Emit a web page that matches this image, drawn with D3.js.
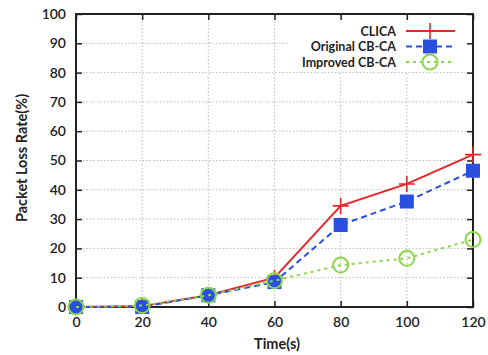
<!DOCTYPE html>
<html><head><meta charset="utf-8">
<script src="https://cdn.jsdelivr.net/npm/d3@7"></script>
<style>body{margin:0;background:#fff;} text{font-family:Lato,sans-serif;}</style>
</head><body><svg id="c" width="488" height="355"></svg>
<script>
const times = [0, 20, 40, 60, 80, 100, 120];
const clica = [0, 0.3, 4, 10, 34.5, 42, 52];
const originalCBCA = [0, 0, 4, 8.5, 28, 36, 46.5];
const improvedCBCA = [0, 0.5, 4, 9, 14.3, 16.6, 23];
const xTicks = [0, 20, 40, 60, 80, 100, 120];
const yTicks = [0, 10, 20, 30, 40, 50, 60, 70, 80, 90, 100];
const seriesNames = ["CLICA", "Original CB-CA", "Improved CB-CA"];

const svg = d3.select("#c");
const L = 76, R = 473, T = 14, B = 307;
const x = d3.scaleLinear().domain([0, 120]).range([L, R]);
const y = d3.scaleLinear().domain([0, 100]).range([B, T]);

// grid
const g = svg.append("g");
g.selectAll(".gx").data(xTicks.slice(1, -1)).join("line")
  .attr("x1", d => x(d)).attr("x2", d => x(d)).attr("y1", T).attr("y2", B)
  .attr("stroke", "#aaa").attr("stroke-width", 0.8).attr("stroke-dasharray", "1.5,2");
g.selectAll(".gy").data(yTicks.slice(1, -1)).join("line")
  .attr("x1", L).attr("x2", R).attr("y1", d => y(d)).attr("y2", d => y(d))
  .attr("stroke", "#aaa").attr("stroke-width", 0.8).attr("stroke-dasharray", "1.5,2");

// key area over grid
svg.append("rect").attr("x", 288).attr("y", 22).attr("width", 180).attr("height", 50).attr("fill", "#fff");

const axB = d3.axisBottom(x).tickValues(xTicks).tickSize(-6).tickPadding(10).tickFormat(d3.format("d"));
const axT = d3.axisTop(x).tickValues(xTicks).tickSize(-6).tickFormat("");
const axL = d3.axisLeft(y).tickValues(yTicks).tickSize(-6).tickPadding(10).tickFormat(d3.format("d"));
const axR = d3.axisRight(y).tickValues(yTicks).tickSize(-6).tickFormat("");
function style(sel) {
  sel.select(".domain").remove();
  sel.selectAll(".tick line").attr("stroke", "#222").attr("stroke-width", 1.5);
  sel.selectAll(".tick text").attr("fill", "#222").style("font-size", "14px")
    .style("font-family", "Lato,sans-serif").style("font-weight", "600");
}
const gB = svg.append("g").attr("transform", `translate(0,${B})`).call(axB).call(style);
gB.selectAll(".tick text").attr("y", 10).attr("dy", "0.71em");
svg.append("g").attr("transform", `translate(0,${T})`).call(axT).call(style);
svg.append("g").attr("transform", `translate(${L},0)`).call(axL).call(style);
svg.append("g").attr("transform", `translate(${R},0)`).call(axR).call(style);

svg.append("rect").attr("x", L).attr("y", T).attr("width", R - L).attr("height", B - T)
  .attr("fill", "none").attr("stroke", "#222").attr("stroke-width", 2);

const line = d3.line().x((d, i) => x(times[i])).y(d => y(d));
const series = [
  {name: seriesNames[0], vals: clica, color: "#e8262a", dash: null, marker: "plus"},
  {name: seriesNames[1], vals: originalCBCA, color: "#2a4fe0", dash: "6,4", marker: "square"},
  {name: seriesNames[2], vals: improvedCBCA, color: "#8cd64a", dash: "3,4", marker: "circle"}
];

function marker(sel, s, cx, cy) {
  if (s.marker === "plus") {
    sel.append("path").attr("d", `M${cx-8},${cy}H${cx+8}M${cx},${cy-8}V${cy+8}`)
      .attr("stroke", s.color).attr("stroke-width", 1.6);
  } else if (s.marker === "square") {
    sel.append("rect").attr("x", cx - 7).attr("y", cy - 7).attr("width", 14).attr("height", 14).attr("fill", s.color);
  } else {
    sel.append("circle").attr("cx", cx).attr("cy", cy).attr("r", 7.5)
      .attr("fill", "none").attr("stroke", s.color).attr("stroke-width", 2);
  }
}

series.forEach(s => {
  svg.append("path").attr("d", line(s.vals)).attr("fill", "none")
    .attr("stroke", s.color).attr("stroke-width", 2).attr("stroke-dasharray", s.dash);
  const mg = svg.append("g");
  s.vals.forEach((v, i) => marker(mg, s, x(times[i]), y(v)));
});

// legend
series.forEach((s, i) => {
  const ly = 31 + i * 15.5;
  svg.append("text").attr("x", 396).attr("y", ly).attr("dy", "0.36em").attr("text-anchor", "end")
    .style("font-size", "12.5px").style("font-weight", "700").attr("fill", "#222").text(s.name);
  svg.append("line").attr("x1", 406).attr("x2", 455).attr("y1", ly).attr("y2", ly)
    .attr("stroke", s.color).attr("stroke-width", 2).attr("stroke-dasharray", s.dash);
  marker(svg, s, 430, ly);
});

// axis titles
svg.append("text").attr("x", 277).attr("y", 344).attr("dy", "0.35em").attr("text-anchor", "middle")
  .style("font-size", "14.5px").style("font-weight", "700").attr("fill", "#222").text("Time(s)");
svg.append("text").attr("transform", "translate(22,158) rotate(-90)").attr("dy", "0.35em").attr("text-anchor", "middle")
  .style("font-size", "14.5px").style("font-weight", "700").attr("fill", "#222").text("Packet Loss Rate(%)");
</script></body></html>
